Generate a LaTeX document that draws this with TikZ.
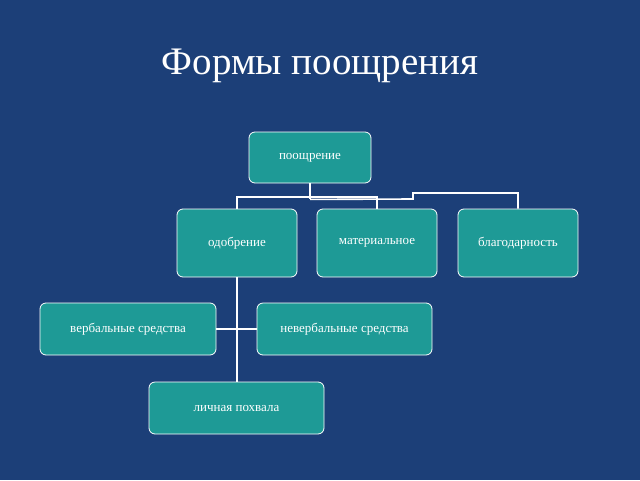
\documentclass[tikz,border=0pt]{standalone}
\usepackage{fontspec}
\setmainfont{Liberation Serif}
\usepackage{tikz}
\definecolor{bgblue}{HTML}{1C3F78}
\definecolor{boxteal}{HTML}{1E9A96}
\begin{document}
\begin{tikzpicture}[x=1pt,y=-1pt]
	\tikzset{every node/.append style={inner sep=0pt},
		box/.style={draw=white,fill=boxteal,rounded corners=6pt,text=white,font=\fontsize{13}{15}\selectfont,line width=0.8pt},
		link/.style={draw=white,line width=1.6pt}}
	\fill [bgblue] (0,0) rectangle (640,480);
	\draw (320,66) node [text=white,font=\fontsize{39}{44}\selectfont] {Формы поощрения};
	\node [box,minimum width=122pt,minimum height=51pt] (pooshch) at (310,157.5) {поощрение};
	\node [box,minimum width=120pt,minimum height=68pt] (odobr) at (237,243) {одобрение};
	\node [box,minimum width=120pt,minimum height=68pt] (mater) at (377,243) {материальное};
	\node [box,minimum width=120pt,minimum height=68pt] (blag) at (518,243) {благодарность};
	\node [box,minimum width=176pt,minimum height=52pt] (verb) at (128,329) {вербальные средства};
	\node [box,minimum width=175pt,minimum height=52pt] (neverb) at (344.5,329) {невербальные средства};
	\node [box,minimum width=175pt,minimum height=52pt] (lichn) at (236.5,408) {личная похвала};
	% connectors
	\draw [link] (pooshch.south) -- ++(0,16) coordinate (p1);
	\draw [link] (odobr.north) |- (237,197) -- (377,197) -- (mater.north);
	\draw [link] (p1) -- (413,199) -- (413,193) -| (blag.north);
	\draw [link] (odobr.south) -- (lichn.north -| odobr.south);
	\draw [link] (verb.east) -- (neverb.west);
\end{tikzpicture}
\end{document}
